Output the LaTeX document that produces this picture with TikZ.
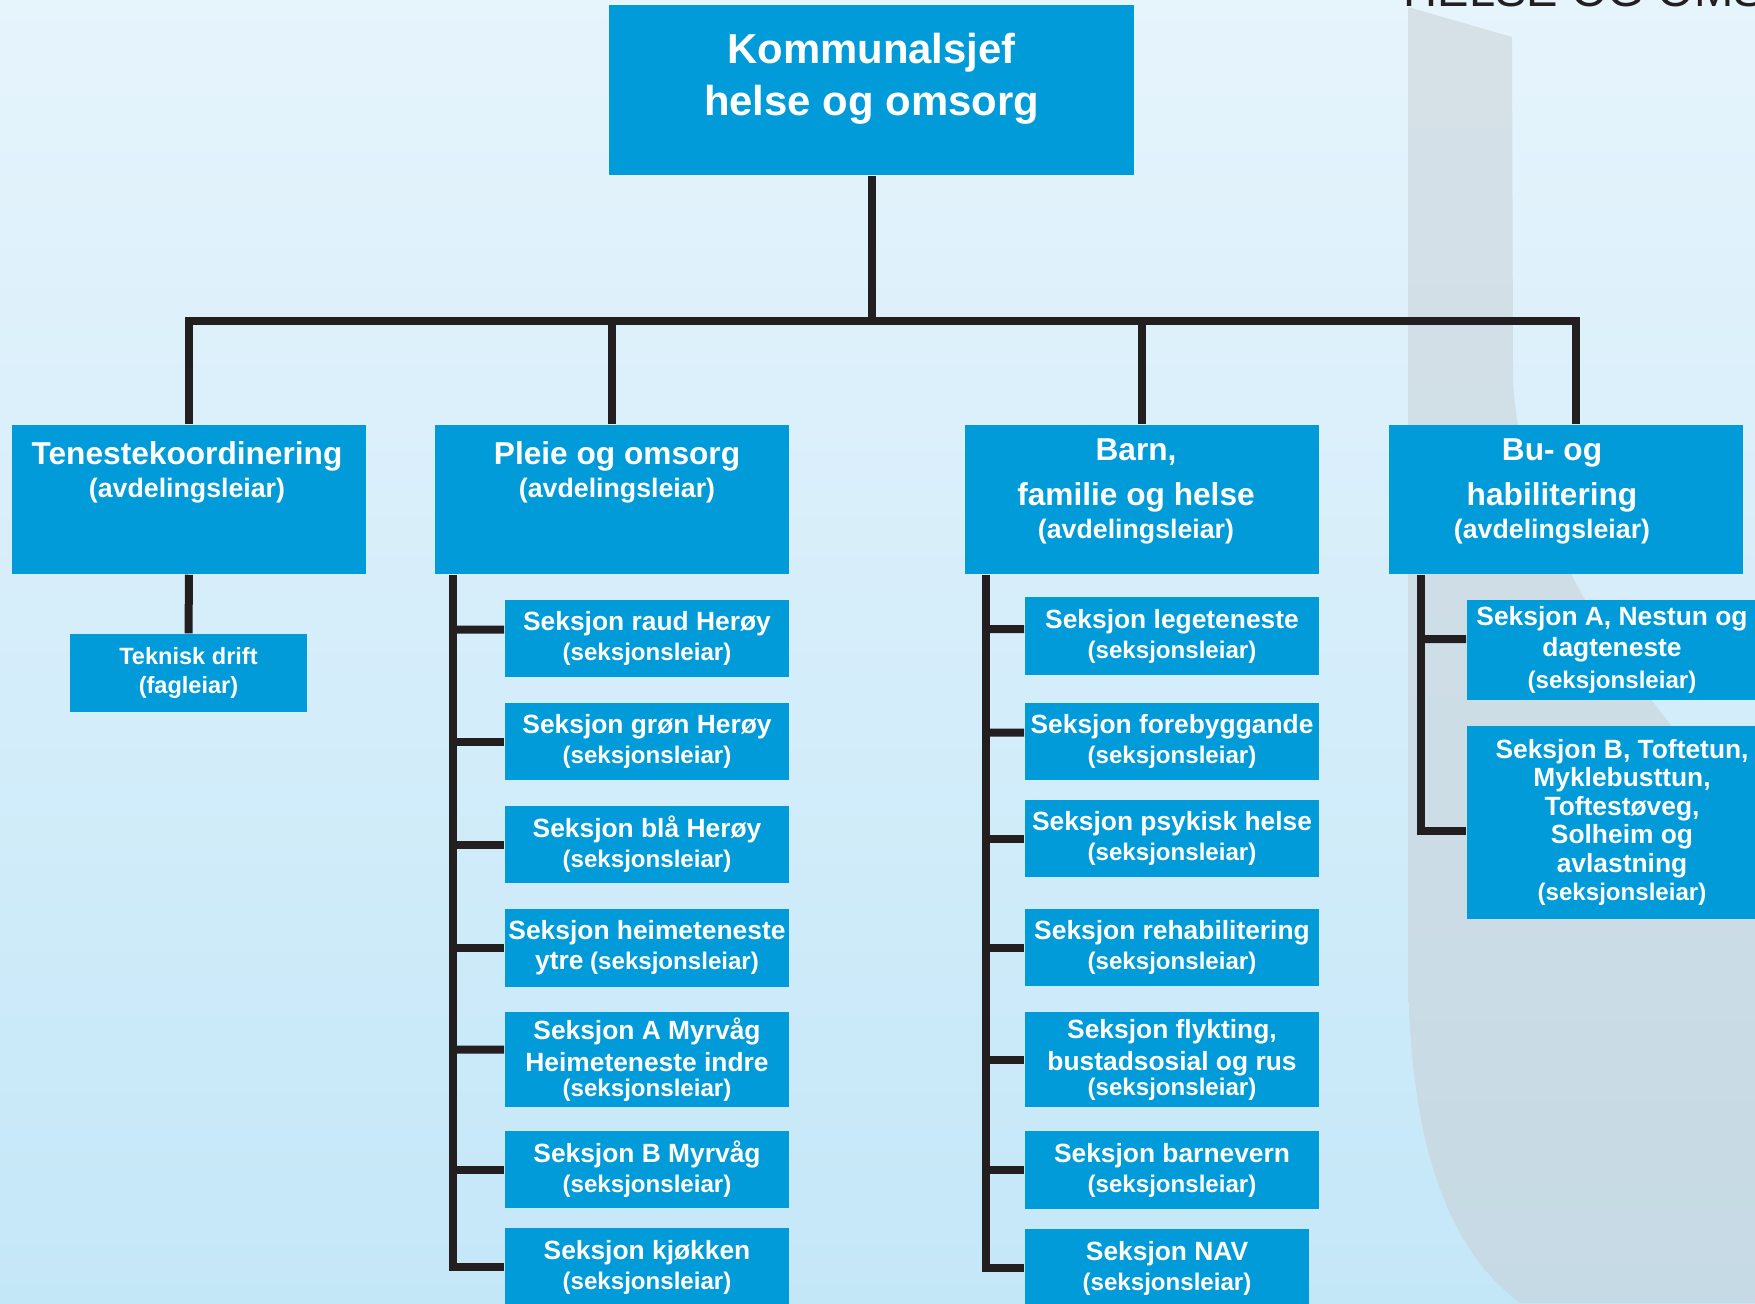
\documentclass[tikz,border=0pt]{standalone}
\usepackage{fontspec}
\setmainfont{Liberation Sans}
\usetikzlibrary{positioning}
\definecolor{boxblue}{RGB}{0,155,216}
\definecolor{linecol}{RGB}{35,31,32}
\definecolor{bgtop}{RGB}{230,244,252}
\definecolor{bgbot}{RGB}{196,231,248}
\definecolor{shtop}{RGB}{214,225,231}
\definecolor{shbot}{RGB}{198,218,229}
\newcommand{\hdfont}{\fontsize{9pt}{9.4pt}\selectfont}
\newcommand{\skfont}{\fontsize{7.5pt}{8.5pt}\selectfont}

\begin{document}
\begin{tikzpicture}[x=0.01cm, y=-0.01cm,
  conn/.style={draw=linecol, line width=0.08cm},
  boss/.style={fill=boxblue, minimum width=5.25cm, minimum height=1.70cm, inner sep=0pt},
  dept/.style={fill=boxblue, minimum width=3.54cm, minimum height=1.49cm, inner sep=0pt},
  boxtext/.style={text=white, align=center, inner sep=0pt, font=\bfseries\fontsize{7.6pt}{9.4pt}\selectfont},
  sek/.style={fill=boxblue, text=white, align=center, inner sep=0pt, minimum width=2.84cm,
    minimum height=0.77cm, font=\bfseries\fontsize{6.85pt}{8.5pt}\selectfont}]
\useasboundingbox (0,0) rectangle (1755,1303);
\clip (0,0) rectangle (1755,1303);
\shade[top color=bgtop, bottom color=bgbot] (0,0) rectangle (1755,1303);
\shade[top color=shtop, bottom color=shbot]
     (1408,7)
  -- (1512,37)
  -- (1513,370) .. controls (1513,490) and (1590,650) .. (1755,820)
  -- (1755,1303)
  -- (1520,1303) .. controls (1450,1250) and (1408,1150) .. (1408,960)
  -- cycle;
\node [anchor=base west, inner sep=0pt, text=linecol, font=\fontsize{13.4pt}{16pt}\selectfont]
  (title) at (1403,7) {HELSE OG OMSORG};

\node [boss] (boss) at (871.5,90) {};
\node [boxtext, below=0.28cm of boss.north, font=\bfseries\fontsize{11.9pt}{14.8pt}\selectfont]
  (boss-t) {Kommunalsjef\\helse og omsorg};

\node [dept] (tk) at (189,499.5) {};
\node [dept] (pl) at (612,499.5) {};
\node [dept] (ba) at (1142,499.5) {};
\node [dept] (bu) at (1566,499.5) {};
\node [boxtext, below=0.17cm of tk.north, xshift=-0.02cm] (tk-t) {{\hdfont Tenestekoordinering}\\(avdelingsleiar)};
\node [boxtext, below=0.17cm of pl.north, xshift=0.05cm] (pl-t) {{\hdfont Pleie og omsorg}\\(avdelingsleiar)};
\node [boxtext, below=0.14cm of ba.north, xshift=-0.06cm] (ba-t) {{\hdfont Barn,}\\[3.4pt]{\hdfont familie og helse}\\(avdelingsleiar)};
\node [boxtext, below=0.14cm of bu.north, xshift=-0.14cm] (bu-t) {{\hdfont Bu- og}\\[3.4pt]{\hdfont habilitering}\\(avdelingsleiar)};

\draw [conn] (tk.north) -- ++(0,-103) coordinate (bar) -| ([xshift=0.1cm]bu.north);
\draw [conn] (boss.south) -- (boss.south |- bar);
\draw [conn] (pl.north) -- (pl.north |- bar);
\draw [conn] (ba.north) -- (ba.north |- bar);

\node [sek, minimum width=2.37cm, minimum height=0.78cm, font=\bfseries\fontsize{6.7pt}{8.5pt}\selectfont]
  (tek) at (188.5,673) {Teknisk drift\\(fagleiar)};
\draw [conn] (tk.south) -- (tek.north);

\node [sek] (raud) at (647,638.5) {{\skfont Seksjon raud Herøy}\\(seksjonsleiar)};
\node [sek] (gron) at (647,741.5) {{\skfont Seksjon grøn Herøy}\\(seksjonsleiar)};
\node [sek] (bla)  at (647,844.5) {{\skfont Seksjon blå Herøy}\\(seksjonsleiar)};
\node [sek, minimum height=0.78cm] (heim) at (647,948) {{\skfont Seksjon heimeteneste}\\{\skfont ytre} (seksjonsleiar)};
\node [sek, minimum height=0.95cm] (amyr) at (647,1059.5) {{\skfont Seksjon A Myrvåg}\\[0.6pt]{\skfont Heimeteneste indre}\\[-1.4pt](seksjonsleiar)};
\node [sek] (bmyr) at (647,1169.5) {{\skfont Seksjon B Myrvåg}\\(seksjonsleiar)};
\node [sek] (kjo)  at (647,1267) {{\skfont Seksjon kjøkken}\\(seksjonsleiar)};

\coordinate (plsp) at ([xshift=0.19cm]pl.south west);
\draw [conn] (plsp) |- (kjo.west);
\draw [conn] (plsp |- raud.west) ++(0,-9) -- ([yshift=0.09cm]raud.west);
\draw [conn] (plsp |- gron.west) -- (gron.west);
\draw [conn] (plsp |- bla.west) -- (bla.west);
\draw [conn] (plsp |- heim.west) -- (heim.west);
\draw [conn] (plsp |- amyr.west) ++(0,-10) -- ([yshift=0.1cm]amyr.west);
\draw [conn] (plsp |- bmyr.west) -- (bmyr.west);

\node [sek, minimum width=2.94cm, minimum height=0.78cm] (lege) at (1172,636) {{\skfont Seksjon legeteneste}\\(seksjonsleiar)};
\node [sek, minimum width=2.94cm] (fore) at (1172,741.5) {{\skfont Seksjon forebyggande}\\(seksjonsleiar)};
\node [sek, minimum width=2.94cm, minimum height=0.76cm] (psyk) at (1172,838.5) {{\skfont Seksjon psykisk helse}\\(seksjonsleiar)};
\node [sek, minimum width=2.94cm] (rehab) at (1172,947.5) {{\skfont Seksjon rehabilitering}\\(seksjonsleiar)};
\node [sek, minimum width=2.94cm, minimum height=0.95cm] (flykt) at (1172,1059.5) {{\skfont Seksjon flykting,}\\[0.6pt]{\skfont bustadsosial og rus}\\[-1.4pt](seksjonsleiar)};
\node [sek, minimum width=2.94cm, minimum height=0.78cm] (barnev) at (1172,1170) {{\skfont Seksjon barnevern}\\(seksjonsleiar)};
\node [sek, minimum height=0.78cm] (nav) at (1167,1268) {{\skfont Seksjon NAV}\\(seksjonsleiar)};

\coordinate (basp) at ([xshift=0.22cm]ba.south west);
\draw [conn] (basp) |- (nav.west);
\draw [conn] (basp |- lege.west) ++(0,-7) -- ([yshift=0.07cm]lege.west);
\draw [conn] (basp |- fore.west) ++(0,-9) -- ([yshift=0.09cm]fore.west);
\draw [conn] (basp |- psyk.west) -- (psyk.west);
\draw [conn] (basp |- rehab.west) -- (rehab.west);
\draw [conn] (basp |- flykt.west) -- (flykt.west);
\draw [conn] (basp |- barnev.west) -- (barnev.west);

\node [sek, minimum width=2.90cm, minimum height=1.00cm] (bua) at (1612,650)
  {{\skfont Seksjon A, Nestun og}\\[0.3pt]{\skfont dagteneste}\\[0.6pt](seksjonsleiar)};
\node [sek, minimum width=3.10cm, minimum height=1.93cm, font=\bfseries\fontsize{6.85pt}{8.1pt}\selectfont] (bub) at (1622,822.5)
  {{\skfont Seksjon B, Toftetun,}\\{\skfont Myklebusttun,}\\{\skfont Toftestøveg,}\\{\skfont Solheim og}\\{\skfont avlastning}\\(seksjonsleiar)};

\coordinate (busp) at ([xshift=0.33cm]bu.south west);
\draw [conn] (busp) |- ([yshift=-0.08cm]bub.west);
\draw [conn] (busp |- bua.west) ++(0,-11) -- ([yshift=0.11cm]bua.west);
\end{tikzpicture}
\end{document}
